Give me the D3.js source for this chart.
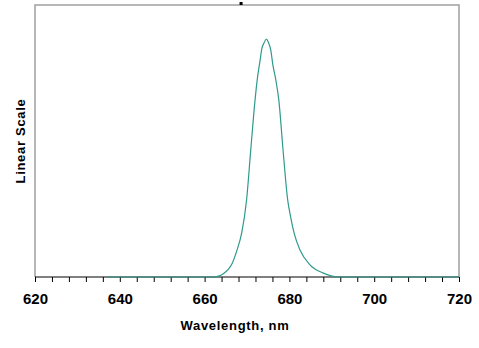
<!DOCTYPE html>
<html>
<head>
<meta charset="utf-8">
<script src="https://cdn.jsdelivr.net/npm/d3@7"></script>
<style>
  body { margin: 0; background: #fff; }
  svg { display: block; font-family: "Liberation Sans", Arial, sans-serif; }
</style>
</head>
<body>
<svg id="svg_spec" width="479" height="348"></svg>
<script>
// spectrum (wavelength nm, relative intensity)
var wavelengths = [637, 650, 660, 662, 663.5, 664.5, 665.5, 666.5, 667.6, 668.75, 669.9, 670.9, 671.9, 672.4, 673.1, 673.5, 674.0, 674.6, 675.0, 675.6, 676.1, 676.8, 677.5, 678.5, 679.6, 680.3, 681.1, 682.5, 684.9, 687.9, 691.5, 700, 710, 720];
var intensity   = [0, 0, 0, 0, 0.004, 0.013, 0.027, 0.05, 0.097, 0.162, 0.283, 0.47, 0.651, 0.724, 0.798, 0.84, 0.86, 0.875, 0.864, 0.835, 0.78, 0.724, 0.651, 0.467, 0.283, 0.22, 0.162, 0.099, 0.044, 0.015, 0, 0, 0, 0];
var x_ticks = [620, 640, 660, 680, 700, 720];

var svg = d3.select("svg#svg_spec");
var margin = {top: 5, right: 20, bottom: 71, left: 35};
var width = +svg.attr("width") - margin.left - margin.right;
var height = +svg.attr("height") - margin.top - margin.bottom;

var x = d3.scaleLinear().domain([620, 720]).range([0, width]);
var y = d3.scaleLinear().domain([0, 1]).range([height, 0]);

var g = svg.append("g")
  .attr("transform", "translate(" + margin.left + "," + margin.top + ")");

// grey frame (left, top, right)
g.append("path")
  .attr("d", "M0," + height + "V0H" + width + "V" + height)
  .attr("fill", "none")
  .attr("stroke", "#a0a0a0")
  .attr("stroke-width", 1.5);

// small marker on top edge
g.append("rect")
  .attr("x", x(668.6) - 1.5)
  .attr("y", -3)
  .attr("width", 3)
  .attr("height", 3)
  .attr("fill", "#000");

// x axis
var xAxis = d3.axisBottom(x)
  .tickValues(d3.range(620, 721, 4))
  .tickSize(5)
  .tickFormat(function(d) { return x_ticks.indexOf(d) >= 0 ? d : ""; });

var gx = g.append("g")
  .attr("transform", "translate(0," + height + ")")
  .call(xAxis);
gx.select(".domain").attr("stroke", "#000").attr("d", "M0,0H" + width);
gx.selectAll(".tick line").attr("stroke", "#000");
gx.selectAll(".tick text")
  .attr("y", 16)
  .attr("fill", "#000")
  .style("font-size", "15px")
  .style("font-weight", "bold");

// spectrum line
var line = d3.line()
  .curve(d3.curveMonotoneX)
  .x(function(d, i) { return x(wavelengths[i]); })
  .y(function(d) { return y(d); });

g.append("path")
  .datum(intensity)
  .attr("fill", "none")
  .attr("stroke", "#2f9a8c")
  .attr("stroke-width", 1.2)
  .attr("d", line);

// axis titles
svg.append("text")
  .attr("x", 235)
  .attr("y", 330)
  .attr("text-anchor", "middle")
  .style("font-size", "13px")
  .style("font-weight", "bold")
  .style("letter-spacing", "0.7px")
  .text("Wavelength, nm");

svg.append("text")
  .attr("transform", "translate(25," + (margin.top + height / 2) + ") rotate(-90)")
  .attr("text-anchor", "middle")
  .style("font-size", "13px")
  .style("font-weight", "bold")
  .style("letter-spacing", "0.7px")
  .text("Linear Scale");
</script>
</body>
</html>
